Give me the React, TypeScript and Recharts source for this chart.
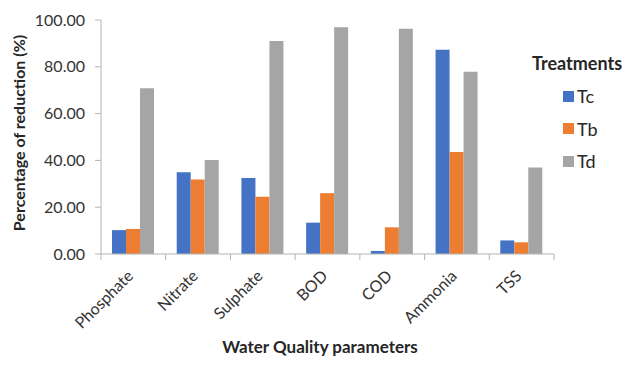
import React from 'react';
import { BarChart, Bar, XAxis, YAxis, Legend } from 'recharts';

const categories = ['Phosphate', 'Nitrate', 'Sulphate', 'BOD', 'COD', 'Ammonia', 'TSS'];
const tc = [10.2, 34.9, 32.5, 13.4, 1.3, 87.3, 5.8];
const tb = [10.7, 31.8, 24.5, 26.0, 11.4, 43.6, 5.0];
const td = [70.8, 40.2, 91.0, 96.9, 96.3, 77.9, 37.0];
const yTicks = [0, 20, 40, 60, 80, 100];

const series = [
    { key: 'Tc', color: '#4472C4' },
    { key: 'Tb', color: '#ED7D31' },
    { key: 'Td', color: '#A5A5A5' },
];

const data = categories.map((name, i) => ({ name, Tc: tc[i], Tb: tb[i], Td: td[i] }));

const FONT = 'Lato, "Open Sans", sans-serif';
const W = 624;
const H = 360;
const MARGIN = { top: 12, right: 78, left: 40, bottom: 24 };
const Y_WIDTH = 53;
const AXIS = '#b4b4b4';
const bandWidth = (W - MARGIN.left - Y_WIDTH - MARGIN.right) / categories.length;

const XTick = (props: any) => {
    const { x, y, payload, index } = props;
    const ty = y + 23;
    const tx = x + 1;
    return (
        <g>
            <line x1={x - bandWidth / 2} x2={x - bandWidth / 2} y1={y} y2={y + 6} stroke={AXIS} />
            {index === categories.length - 1 && (
                <line x1={x + bandWidth / 2} x2={x + bandWidth / 2} y1={y} y2={y + 6} stroke={AXIS} />
            )}
            <text
                x={tx}
                y={ty}
                textAnchor="end"
                transform={`rotate(-45 ${tx} ${ty})`}
                fill="#333"
                fontSize={16}
                fontFamily={FONT}
            >
                {payload.value}
            </text>
        </g>
    );
};

const LegendBox = () => (
    <div style={{ fontFamily: FONT, color: '#262626' }}>
        <div style={{ fontWeight: 700, fontSize: 18, lineHeight: '24px', marginBottom: 5 }}>Treatments</div>
        {series.map((s) => (
            <div
                key={s.key}
                style={{ display: 'flex', alignItems: 'center', height: 32.5, paddingLeft: 31, fontSize: 18 }}
            >
                <span style={{ width: 11, height: 11, background: s.color, marginRight: 3, display: 'inline-block' }} />
                {s.key}
            </div>
        ))}
    </div>
);

export default function App() {
    return (
        <div style={{ width: W, height: H }}>
            <BarChart width={W} height={H} data={data} margin={MARGIN} barSize={14} barGap={0}>
                <XAxis
                    dataKey="name"
                    height={90}
                    stroke={AXIS}
                    tickLine={false}
                    tickSize={0}
                    tickMargin={0}
                    interval={0}
                    tick={<XTick />}
                    label={{
                        content: () => (
                            <text
                                x={312}
                                y={345}
                                textAnchor="middle"
                                fontWeight={700}
                                fontSize={17}
                                fontFamily={FONT}
                                fill="#262626"
                            >
                                Water Quality parameters
                            </text>
                        ),
                    }}
                />
                <YAxis
                    width={Y_WIDTH}
                    domain={[0, 100]}
                    ticks={yTicks}
                    interval={0}
                    stroke={AXIS}
                    tickSize={6}
                    tickMargin={10}
                    tickFormatter={(v: number) => v.toFixed(2)}
                    tick={{ fill: '#333', fontSize: 16, fontFamily: FONT }}
                    label={{
                        content: () => (
                            <text
                                x={10}
                                y={125}
                                transform="rotate(-90 10 125)"
                                textAnchor="middle"
                                dominantBaseline="central"
                                fontWeight={700}
                                fontSize={16}
                                fontFamily={FONT}
                                fill="#262626"
                            >
                                Percentage of reduction (%)
                            </text>
                        ),
                    }}
                />
                <Legend
                    layout="vertical"
                    align="center"
                    verticalAlign="middle"
                    content={<LegendBox />}
                    wrapperStyle={{ left: 524, top: 43, width: 110 }}
                />
                {series.map((s) => (
                    <Bar key={s.key} dataKey={s.key} fill={s.color} isAnimationActive={false} />
                ))}
            </BarChart>
        </div>
    );
}
